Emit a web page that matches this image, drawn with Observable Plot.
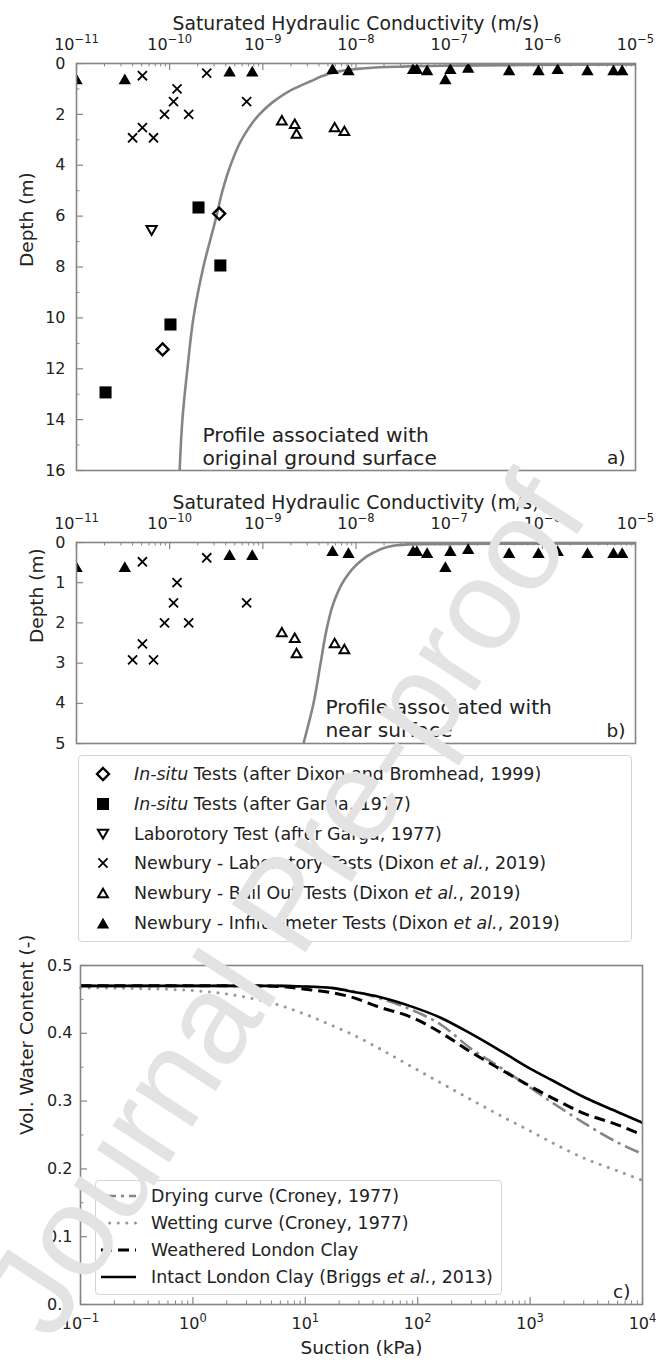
<!DOCTYPE html>
<html><head><meta charset="utf-8">
<script src="https://cdn.jsdelivr.net/npm/d3@7"></script>
<script src="https://cdn.jsdelivr.net/npm/@observablehq/plot@0.6"></script>
<style>
body{margin:0;background:#fff;font-family:"DejaVu Sans",sans-serif;color:#222;}
#page{position:relative;width:657px;height:1365px;overflow:hidden;background:#fff;}
.abs{position:absolute;left:0;}
.legend{position:absolute;border:1px solid #d4d4d4;border-radius:4px;background:rgba(255,255,255,0.85);box-sizing:border-box;}
.row{position:absolute;left:0;height:24px;white-space:nowrap;}
.row svg{position:absolute;left:0;top:0;}
.row span{position:absolute;top:50%;transform:translateY(-50%);}
</style></head>
<body><div id="page"></div>
<script>
// ---------- Data: saturated hydraulic conductivity (m/s) vs depth (m) ----------
const kDecades = [1e-11, 1e-10, 1e-9, 1e-8, 1e-7, 1e-6, 1e-5];
const kDecadeLabels = ["10⁻¹¹", "10⁻¹⁰", "10⁻⁹", "10⁻⁸", "10⁻⁷", "10⁻⁶", "10⁻⁵"];

const dixonBromheadK = [3.4e-10, 8.4e-11];
const dixonBromheadDepth = [5.9, 11.24];

const gargaInsituK = [2.04e-10, 3.5e-10, 1.02e-10, 2.05e-11];
const gargaInsituDepth = [5.66, 7.94, 10.26, 12.93];

const gargaLabK = [6.4e-11];
const gargaLabDepth = [6.56];

const newburyLabK = [5.1e-11, 2.5e-10, 1.2e-10, 1.1e-10, 6.7e-10, 8.8e-11, 1.6e-10, 5.1e-11, 4.0e-11, 6.7e-11];
const newburyLabDepth = [0.48, 0.38, 1.0, 1.5, 1.5, 2.0, 2.0, 2.52, 2.92, 2.92];

const newburyBailK = [1.6e-9, 2.2e-9, 2.3e-9, 5.9e-9, 7.5e-9];
const newburyBailDepth = [2.23, 2.37, 2.75, 2.5, 2.65];

const newburyInfK = [1.0e-11, 3.3e-11, 4.4e-10, 7.7e-10, 5.6e-9, 8.3e-9, 4.1e-8, 4.5e-8, 5.8e-8, 9.1e-8, 1.03e-7, 1.6e-7, 4.4e-7, 9.1e-7, 1.46e-6, 3.05e-6, 5.8e-6, 7.2e-6];
const newburyInfDepth = [0.6, 0.6, 0.3, 0.3, 0.2, 0.25, 0.2, 0.2, 0.25, 0.6, 0.2, 0.15, 0.25, 0.25, 0.2, 0.25, 0.25, 0.25];

// profile curves
const profileOriginalDepth = [0.04, 0.06, 0.09, 0.13, 0.2, 0.3, 0.45, 0.7, 1, 1.5, 2, 3, 4, 5, 6, 8, 10, 12, 14, 16];
const profileOriginalK = [1.0e-5, 5.8e-7, 8.1e-8, 2.65e-8, 1.12e-8, 6.8e-9, 4.7e-9, 3.25e-9, 2.13e-9, 1.3e-9, 9.2e-10, 5.9e-10, 4.5e-10, 3.69e-10, 3.18e-10, 2.3e-10, 1.8e-10, 1.55e-10, 1.37e-10, 1.28e-10];

const profileNearDepth = [0.025, 0.03, 0.04, 0.08, 0.25, 0.52, 0.95, 1.5, 2.1, 3.0, 4.0, 5.0];
const profileNearK = [1.0e-5, 3.2e-7, 4.5e-8, 2.5e-8, 1.55e-8, 1.05e-8, 7.4e-9, 5.75e-9, 4.9e-9, 4.17e-9, 3.5e-9, 2.73e-9];

// ---------- Data: soil water retention ----------
const suctionTicks = [0.1, 1, 10, 100, 1000, 10000];
const suctionTickLabels = ["10⁻¹", "10⁰", "10¹", "10²", "10³", "10⁴"];
const suction = [0.1, 0.3, 1, 2, 3, 6, 10, 17, 25, 45, 90, 160, 300, 600, 1000, 1600, 3000, 6000, 10000];
const thetaDrying = [0.47, 0.47, 0.47, 0.47, 0.47, 0.47, 0.469, 0.467, 0.463, 0.452, 0.434, 0.413, 0.377, 0.345, 0.32, 0.297, 0.268, 0.239, 0.222];
const thetaWetting = [0.467, 0.466, 0.463, 0.458, 0.453, 0.441, 0.428, 0.412, 0.4, 0.378, 0.35, 0.327, 0.302, 0.275, 0.256, 0.238, 0.216, 0.197, 0.183];
const thetaWeathered = [0.47, 0.47, 0.47, 0.47, 0.47, 0.469, 0.465, 0.46, 0.454, 0.439, 0.423, 0.401, 0.372, 0.343, 0.322, 0.304, 0.282, 0.265, 0.25];
const thetaIntact = [0.47, 0.47, 0.47, 0.47, 0.47, 0.47, 0.469, 0.467, 0.462, 0.454, 0.439, 0.423, 0.399, 0.37, 0.348, 0.33, 0.306, 0.284, 0.268];

// ---------- Labels ----------
const kTitle = "Saturated Hydraulic Conductivity (m/s)";
const legendABLabels = [
  "<i>In-situ</i> Tests (after Dixon and Bromhead, 1999)",
  "<i>In-situ</i> Tests (after Garga, 1977)",
  "Laborotory Test (after Garga, 1977)",
  "Newbury - Laboratory Tests (Dixon <i>et al.</i>, 2019)",
  "Newbury - Bail Out Tests (Dixon <i>et al.</i>, 2019)",
  "Newbury - Infiltrometer Tests (Dixon <i>et al.</i>, 2019)"
];
const legendCLabels = [
  "Drying curve (Croney, 1977)",
  "Wetting curve (Croney, 1977)",
  "Weathered London Clay",
  "Intact London Clay (Briggs <i>et al.</i>, 2013)"
];

// ---------- Styles ----------
const W = 657;
const GRAY = "#858585";
const FONT = "DejaVu Sans";
const rows = (K, D) => K.map((k, i) => ({K: k, depth: D[i]}));
const kMinorTicks = d3.range(-11, -5).flatMap(e => d3.range(2, 10).map(m => m * Math.pow(10, e)));

const markerStyles = [
  {symbol: "diamond2", r: 5.4, fill: "none", stroke: "#000", strokeWidth: 2.4, rotate: 0, dy: 0},
  {symbol: "square", r: 6.8, fill: "#000", stroke: "none", strokeWidth: 0, rotate: 0, dy: 0},
  {symbol: "triangle", r: 3.8, fill: "none", stroke: "#000", strokeWidth: 2, rotate: 180, dy: -1.4},
  {symbol: "times", r: 4.2, fill: "none", stroke: "#000", strokeWidth: 1.8, rotate: 0, dy: 0},
  {symbol: "triangle", r: 3.6, fill: "none", stroke: "#000", strokeWidth: 2, rotate: 0, dy: 1.4},
  {symbol: "triangle", r: 4.6, fill: "#000", stroke: "none", strokeWidth: 0, rotate: 0, dy: 1.8}
];
const series = [
  rows(dixonBromheadK, dixonBromheadDepth),
  rows(gargaInsituK, gargaInsituDepth),
  rows(gargaLabK, gargaLabDepth),
  rows(newburyLabK, newburyLabDepth),
  rows(newburyBailK, newburyBailDepth),
  rows(newburyInfK, newburyInfDepth)
];

// turn "10⁻¹¹" style tick labels into "10" + raised smaller exponent
const SUP = {"⁻": "−", "⁰": "0", "¹": "1", "²": "2", "³": "3", "⁴": "4", "⁵": "5", "⁶": "6", "⁷": "7", "⁸": "8", "⁹": "9"};
function superscriptify(svg) {
  const ns = "http://www.w3.org/2000/svg";
  svg.querySelectorAll("text").forEach(t => {
    const m = /^10([⁻⁰¹²³⁴⁵⁶⁷⁸⁹]+)$/.exec(t.textContent);
    if (!m) return;
    const exp = [...m[1]].map(c => SUP[c]).join("");
    t.textContent = "";
    const a = document.createElementNS(ns, "tspan"); a.textContent = "10";
    const b = document.createElementNS(ns, "tspan"); b.textContent = exp;
    b.setAttribute("dy", "-6.5"); b.setAttribute("font-size", "11.5");
    t.appendChild(a); t.appendChild(b);
  });
  return svg;
}

function hydraulicPanel({height, mTop, mBottom, depthMax, yMajor, yMinor, curve, note, noteDx, noteDy, tag, yLabelDx}) {
  const mLeft = 76, mRight = 22;
  const plotH = height - mTop - mBottom, plotW = W - mLeft - mRight;
  const dots = series.map((data, i) => {
    const s = markerStyles[i];
    return Plot.dot(data, {x: "K", y: "depth", symbol: s.symbol, r: s.r, fill: s.fill, stroke: s.stroke,
      strokeWidth: s.strokeWidth, rotate: s.rotate, dy: s.dy, clip: true});
  });
  return superscriptify(Plot.plot({
    width: W, height, marginTop: mTop, marginBottom: mBottom, marginLeft: mLeft, marginRight: mRight,
    x: {type: "log", domain: [1e-11, 1e-5]},
    y: {domain: [0, depthMax], reverse: true},
    style: {fontFamily: FONT, fontSize: "16px", color: "#222", background: "transparent", overflow: "visible"},
    marks: [
      Plot.tickX(kMinorTicks, {x: d => d, stroke: GRAY, strokeWidth: 1, insetBottom: plotH - 3.5}),
      Plot.tickX(kDecades, {x: d => d, stroke: GRAY, strokeWidth: 1.2, insetBottom: plotH - 7}),
      Plot.tickY(yMinor, {y: d => d, stroke: GRAY, strokeWidth: 1, insetRight: plotW - 3.5}),
      Plot.tickY(yMajor, {y: d => d, stroke: GRAY, strokeWidth: 1.2, insetRight: plotW - 7}),
      Plot.axisX({anchor: "top", ticks: kDecades, tickSize: 0, tickPadding: 14, label: null, fontSize: 16,
        tickFormat: d => kDecadeLabels[kDecades.indexOf(d)]}),
      Plot.axisY({anchor: "left", ticks: yMajor, tickSize: 0, tickPadding: 11, label: null, fontSize: 16,
        tickFormat: d => String(d)}),
      Plot.line(curve, {x: "K", y: "depth", stroke: GRAY, strokeWidth: 2.6, curve: "monotone-y", clip: true}),
      ...dots,
      Plot.frame({stroke: GRAY, strokeWidth: 1.6}),
      Plot.text([kTitle], {text: d => d, frameAnchor: "top", dy: -47, fontSize: 18.8, fill: "#222"}),
      Plot.text(["Depth (m)"], {text: d => d, frameAnchor: "left", dx: yLabelDx, rotate: -90, fontSize: 18.5, fill: "#222"}),
      Plot.text([note], {text: d => d, frameAnchor: "bottom-left", dx: noteDx, dy: noteDy, textAnchor: "start",
        lineAnchor: "bottom", fontSize: 20.2, lineHeight: 1.13, fill: "#222"}),
      Plot.text([tag], {text: d => d, frameAnchor: "bottom-right", dx: -10, dy: -7, textAnchor: "end",
        lineAnchor: "bottom", fontSize: 18.5, fill: "#222"})
    ]
  }));
}

const page = document.getElementById("page");
function place(node, top) {
  const d = document.createElement("div");
  d.className = "abs"; d.style.top = top + "px";
  d.appendChild(node); page.appendChild(d);
}

// Panel a
place(hydraulicPanel({
  height: 480, mTop: 63, mBottom: 10, depthMax: 16,
  yMajor: [0, 2, 4, 6, 8, 10, 12, 14, 16], yMinor: [1, 3, 5, 7, 9, 11, 13, 15],
  curve: rows(profileOriginalK, profileOriginalDepth),
  note: "Profile associated with\noriginal ground surface", noteDx: 126, noteDy: -6, tag: "a)", yLabelDx: -49
}), 0);

// Panel b
place(hydraulicPanel({
  height: 275, mTop: 62, mBottom: 12, depthMax: 5,
  yMajor: [0, 1, 2, 3, 4, 5], yMinor: [],
  curve: rows(profileNearK, profileNearDepth),
  note: "Profile associated with\nnear surface", noteDx: 249, noteDy: -7, tag: "b)", yLabelDx: -39
}), 480);

// Legend for a/b
(function () {
  const box = document.createElement("div");
  box.className = "legend";
  Object.assign(box.style, {left: "78px", top: "755px", width: "554px", height: "187px"});
  legendABLabels.forEach((lab, i) => {
    const s = markerStyles[i];
    const row = document.createElement("div");
    row.className = "row";
    row.style.top = (18 + i * 29.8 - 12) + "px";
    row.style.width = "550px";
    const svg = d3.create("svg").attr("width", 50).attr("height", 24);
    const size = Math.PI * s.r * s.r;
    const sym = {diamond2: d3.symbolDiamond2, square: d3.symbolSquare, triangle: d3.symbolTriangle, times: d3.symbolTimes}[s.symbol];
    svg.append("path")
      .attr("d", d3.symbol(sym, size)())
      .attr("transform", `translate(24,${12 + s.dy}) rotate(${s.rotate})`)
      .attr("fill", s.fill).attr("stroke", s.stroke).attr("stroke-width", s.strokeWidth);
    row.appendChild(svg.node());
    const span = document.createElement("span");
    span.style.left = "55px"; span.style.fontSize = "17.4px";
    span.innerHTML = lab;
    row.appendChild(span);
    box.appendChild(row);
  });
  page.appendChild(box);
})();

// Panel c
const lineStyles = [
  {theta: thetaWetting, stroke: "#999", strokeWidth: 3, dash: "0.1,8.5", cap: "round"},
  {theta: thetaDrying, stroke: GRAY, strokeWidth: 2.6, dash: "15,5,3,5", cap: "butt"},
  {theta: thetaWeathered, stroke: "#000", strokeWidth: 3, dash: "11,6", cap: "butt"},
  {theta: thetaIntact, stroke: "#000", strokeWidth: 2.6, dash: null, cap: "butt"}
];
const legendOrder = [1, 0, 2, 3];
(function () {
  const H = 420, mTop = 20, mBottom = 61, mLeft = 80, mRight = 15;
  const plotH = H - mTop - mBottom, plotW = W - mLeft - mRight;
  const sMinor = d3.range(-1, 4).flatMap(e => d3.range(2, 10).map(m => m * Math.pow(10, e)));
  const chart = superscriptify(Plot.plot({
    width: W, height: H, marginTop: mTop, marginBottom: mBottom, marginLeft: mLeft, marginRight: mRight,
    x: {type: "log", domain: [0.1, 10000]},
    y: {domain: [0, 0.5]},
    style: {fontFamily: FONT, fontSize: "16px", color: "#222", background: "transparent", overflow: "visible"},
    marks: [
      Plot.tickX(sMinor, {x: d => d, stroke: GRAY, strokeWidth: 1, insetTop: plotH - 3.5}),
      Plot.tickX(suctionTicks, {x: d => d, stroke: GRAY, strokeWidth: 1.2, insetTop: plotH - 7}),
      Plot.tickY([0.05, 0.15, 0.25, 0.35, 0.45], {y: d => d, stroke: GRAY, strokeWidth: 1, insetRight: plotW - 3.5}),
      Plot.tickY([0, 0.1, 0.2, 0.3, 0.4, 0.5], {y: d => d, stroke: GRAY, strokeWidth: 1.2, insetRight: plotW - 7}),
      Plot.axisX({anchor: "bottom", ticks: suctionTicks, tickSize: 0, tickPadding: 13, label: null, fontSize: 16,
        tickFormat: d => suctionTickLabels[suctionTicks.indexOf(d)]}),
      Plot.axisY({anchor: "left", ticks: [0, 0.1, 0.2, 0.3, 0.4, 0.5], tickSize: 0, tickPadding: 8, label: null,
        fontSize: 16, tickFormat: d3.format(".1f")}),
      ...lineStyles.map(ls => Plot.line(suction.map((s, i) => ({s, t: ls.theta[i]})), {
        x: "s", y: "t", stroke: ls.stroke, strokeWidth: ls.strokeWidth, strokeDasharray: ls.dash,
        strokeLinecap: ls.cap, curve: "monotone-x"})),
      Plot.frame({stroke: GRAY, strokeWidth: 1.6}),
      Plot.text(["Suction (kPa)"], {text: d => d, frameAnchor: "bottom", dy: 49, fontSize: 18.5, fill: "#222"}),
      Plot.text(["Vol. Water Content (-)"], {text: d => d, frameAnchor: "left", dx: -53, rotate: -90, fontSize: 18.5, fill: "#222"}),
      Plot.text(["c)"], {text: d => d, frameAnchor: "bottom-right", dx: -12, dy: -7, textAnchor: "end",
        lineAnchor: "bottom", fontSize: 18.5, fill: "#222"})
    ]
  }));
  place(chart, 945);

  const box = document.createElement("div");
  box.className = "legend";
  Object.assign(box.style, {left: "95px", top: "1180px", width: "407px", height: "115px"});
  legendOrder.forEach((li, i) => {
    const ls = lineStyles[li];
    const row = document.createElement("div");
    row.className = "row";
    row.style.top = (15 + i * 27 - 12) + "px";
    row.style.width = "400px";
    const svg = d3.create("svg").attr("width", 48).attr("height", 24);
    svg.append("line").attr("x1", 5).attr("x2", 40).attr("y1", 12).attr("y2", 12)
      .attr("stroke", ls.stroke).attr("stroke-width", ls.strokeWidth)
      .attr("stroke-dasharray", ls.dash).attr("stroke-linecap", ls.cap);
    row.appendChild(svg.node());
    const span = document.createElement("span");
    span.style.left = "55px"; span.style.fontSize = "17.4px";
    span.innerHTML = legendCLabels[i];
    row.appendChild(span);
    box.appendChild(row);
  });
  page.appendChild(box);
})();

// Watermark overlay
(function () {
  const svg = d3.create("svg").attr("width", W).attr("height", 1365)
    .style("position", "absolute").style("left", 0).style("top", 0).style("pointer-events", "none");
  svg.append("text").attr("transform", "translate(52,1343) rotate(-57)")
    .attr("font-family", "Liberation Sans").attr("font-size", 128).attr("fill", "#e3e3e3")
    .text("Journal Pre-proof");
  page.appendChild(svg.node());
})();
</script>
</body></html>
